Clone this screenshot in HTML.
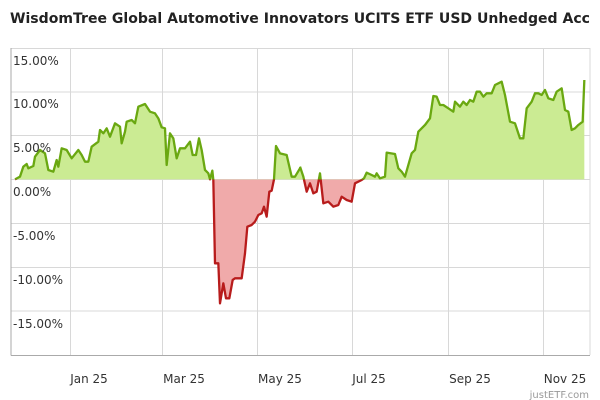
<!DOCTYPE html>
<html><head><meta charset="utf-8"><style>
body{margin:0;background:#fff;}
svg{display:block;font-family:"DejaVu Sans",sans-serif;}
</style></head><body>
<svg width="600" height="400" viewBox="0 0 600 400">
<defs>
<clipPath id="up"><rect x="0" y="0" width="600" height="179.5"/></clipPath>
<clipPath id="dn"><rect x="0" y="179.5" width="600" height="300"/></clipPath>
</defs>
<text x="10" y="23" font-size="13.8" font-weight="bold" fill="#222" textLength="580" lengthAdjust="spacingAndGlyphs">WisdomTree Global Automotive Innovators UCITS ETF USD Unhedged Acc</text>
<g stroke="#d8d8d8" stroke-width="1">
<line x1="11" y1="48.5" x2="590" y2="48.5"/><line x1="11" y1="92" x2="590" y2="92"/><line x1="11" y1="135.5" x2="590" y2="135.5"/><line x1="11" y1="223.5" x2="590" y2="223.5"/><line x1="11" y1="267.5" x2="590" y2="267.5"/><line x1="11" y1="311" x2="590" y2="311"/>
<line x1="70.5" y1="48" x2="70.5" y2="355"/><line x1="162.5" y1="48" x2="162.5" y2="355"/><line x1="257.5" y1="48" x2="257.5" y2="355"/><line x1="352.5" y1="48" x2="352.5" y2="355"/><line x1="448.5" y1="48" x2="448.5" y2="355"/><line x1="543.5" y1="48" x2="543.5" y2="355"/><line x1="590" y1="48" x2="590" y2="355"/>
</g>
<line x1="11" y1="179.5" x2="590" y2="179.5" stroke="#d8d8d8"/>
<line x1="11" y1="48" x2="11" y2="355.5" stroke="#aaa"/>
<line x1="11" y1="355.5" x2="590" y2="355.5" stroke="#aaa"/>

<g clip-path="url(#up)">
 <g transform="translate(0,40) scale(0.33333)">
  <polygon fill="#cbeb93" points="45,418 60,410 70,380 80,372 85,385 100,378 105,350 120,330 135,340 145,390 160,395 170,360 175,380 185,325 200,330 215,355 235,330 245,345 255,365 265,365 275,320 295,305 300,270 310,280 320,265 330,290 345,250 360,260 365,310 375,275 380,245 395,240 405,250 415,200 435,192 450,215 465,220 475,235 485,262 495,265 500,375 510,280 520,295 530,355 540,325 555,325 570,305 578,345 588,345 597,295 605,330 615,390 625,400 630,418 637,392 640,420 645,670 655,670 660,790 670,730 678,775 688,775 698,720 705,715 725,715 735,640 742,560 755,555 765,545 775,525 785,520 792,500 800,530 808,455 815,452 822,418 828,318 840,340 860,345 875,410 885,410 900,385 900,418"/>
  <polyline fill="none" stroke="#6aa811" stroke-width="2.3" stroke-linejoin="round" vector-effect="non-scaling-stroke" points="45,418 60,410 70,380 80,372 85,385 100,378 105,350 120,330 135,340 145,390 160,395 170,360 175,380 185,325 200,330 215,355 235,330 245,345 255,365 265,365 275,320 295,305 300,270 310,280 320,265 330,290 345,250 360,260 365,310 375,275 380,245 395,240 405,250 415,200 435,192 450,215 465,220 475,235 485,262 495,265 500,375 510,280 520,295 530,355 540,325 555,325 570,305 578,345 588,345 597,295 605,330 615,390 625,400 630,418 637,392 640,420 645,670 655,670 660,790 670,730 678,775 688,775 698,720 705,715 725,715 735,640 742,560 755,555 765,545 775,525 785,520 792,500 800,530 808,455 815,452 822,418 828,318 840,340 860,345 875,410 885,410 900,385"/>
 </g>
 <g transform="translate(300,40) scale(0.33333)">
  <polygon fill="#cbeb93" points="0,418 0,380 10,410 20,455 30,430 40,460 50,455 60,400 70,490 85,485 100,500 115,495 125,470 140,480 155,485 165,430 185,420 192,415 200,398 215,405 225,410 230,400 240,415 255,410 260,338 285,342 295,385 305,395 315,410 335,340 345,330 355,275 365,265 375,255 390,235 400,168 410,170 420,195 430,195 445,205 460,215 465,185 480,200 490,185 500,195 510,180 520,185 530,155 540,155 550,170 560,160 575,160 585,135 605,125 615,165 630,245 645,250 660,295 670,295 680,205 695,185 705,160 715,160 725,165 735,150 745,175 760,180 770,155 785,145 795,210 805,215 815,270 825,265 835,255 848,245 853,120 853,418"/>
  <polyline fill="none" stroke="#6aa811" stroke-width="2.3" stroke-linejoin="round" vector-effect="non-scaling-stroke" points="0,380 10,410 20,455 30,430 40,460 50,455 60,400 70,490 85,485 100,500 115,495 125,470 140,480 155,485 165,430 185,420 192,415 200,398 215,405 225,410 230,400 240,415 255,410 260,338 285,342 295,385 305,395 315,410 335,340 345,330 355,275 365,265 375,255 390,235 400,168 410,170 420,195 430,195 445,205 460,215 465,185 480,200 490,185 500,195 510,180 520,185 530,155 540,155 550,170 560,160 575,160 585,135 605,125 615,165 630,245 645,250 660,295 670,295 680,205 695,185 705,160 715,160 725,165 735,150 745,175 760,180 770,155 785,145 795,210 805,215 815,270 825,265 835,255 848,245 853,120"/>
 </g>
</g>
<g clip-path="url(#dn)">
 <g transform="translate(0,40) scale(0.33333)">
  <polygon fill="#f0aaaa" points="45,418 60,410 70,380 80,372 85,385 100,378 105,350 120,330 135,340 145,390 160,395 170,360 175,380 185,325 200,330 215,355 235,330 245,345 255,365 265,365 275,320 295,305 300,270 310,280 320,265 330,290 345,250 360,260 365,310 375,275 380,245 395,240 405,250 415,200 435,192 450,215 465,220 475,235 485,262 495,265 500,375 510,280 520,295 530,355 540,325 555,325 570,305 578,345 588,345 597,295 605,330 615,390 625,400 630,418 637,392 640,420 645,670 655,670 660,790 670,730 678,775 688,775 698,720 705,715 725,715 735,640 742,560 755,555 765,545 775,525 785,520 792,500 800,530 808,455 815,452 822,418 828,318 840,340 860,345 875,410 885,410 900,385 900,418"/>
  <polyline fill="none" stroke="#b81c1c" stroke-width="2.3" stroke-linejoin="round" vector-effect="non-scaling-stroke" points="45,418 60,410 70,380 80,372 85,385 100,378 105,350 120,330 135,340 145,390 160,395 170,360 175,380 185,325 200,330 215,355 235,330 245,345 255,365 265,365 275,320 295,305 300,270 310,280 320,265 330,290 345,250 360,260 365,310 375,275 380,245 395,240 405,250 415,200 435,192 450,215 465,220 475,235 485,262 495,265 500,375 510,280 520,295 530,355 540,325 555,325 570,305 578,345 588,345 597,295 605,330 615,390 625,400 630,418 637,392 640,420 645,670 655,670 660,790 670,730 678,775 688,775 698,720 705,715 725,715 735,640 742,560 755,555 765,545 775,525 785,520 792,500 800,530 808,455 815,452 822,418 828,318 840,340 860,345 875,410 885,410 900,385"/>
 </g>
 <g transform="translate(300,40) scale(0.33333)">
  <polygon fill="#f0aaaa" points="0,418 0,380 10,410 20,455 30,430 40,460 50,455 60,400 70,490 85,485 100,500 115,495 125,470 140,480 155,485 165,430 185,420 192,415 200,398 215,405 225,410 230,400 240,415 255,410 260,338 260,418"/>
  <polyline fill="none" stroke="#b81c1c" stroke-width="2.3" stroke-linejoin="round" vector-effect="non-scaling-stroke" points="0,380 10,410 20,455 30,430 40,460 50,455 60,400 70,490 85,485 100,500 115,495 125,470 140,480 155,485 165,430 185,420 192,415 200,398 215,405 225,410 230,400 240,415 255,410 260,338"/>
 </g>
</g>

<g font-size="12" fill="#333">
<text x="13" y="65">15.00%</text>
<text x="13" y="108">10.00%</text>
<text x="13" y="152">5.00%</text>
<text x="13" y="196">0.00%</text>
<text x="13" y="240">-5.00%</text>
<text x="13" y="284">-10.00%</text>
<text x="13" y="328">-15.00%</text>
</g>
<g font-size="12" fill="#333" text-anchor="middle">
<text x="89" y="383">Jan 25</text>
<text x="184" y="383">Mar 25</text>
<text x="280" y="383">May 25</text>
<text x="369" y="383">Jul 25</text>
<text x="470" y="383">Sep 25</text>
<text x="565" y="383">Nov 25</text>
</g>
<text x="589" y="398" font-size="10" fill="#999" text-anchor="end">justETF.com</text>
</svg>
</body></html>
